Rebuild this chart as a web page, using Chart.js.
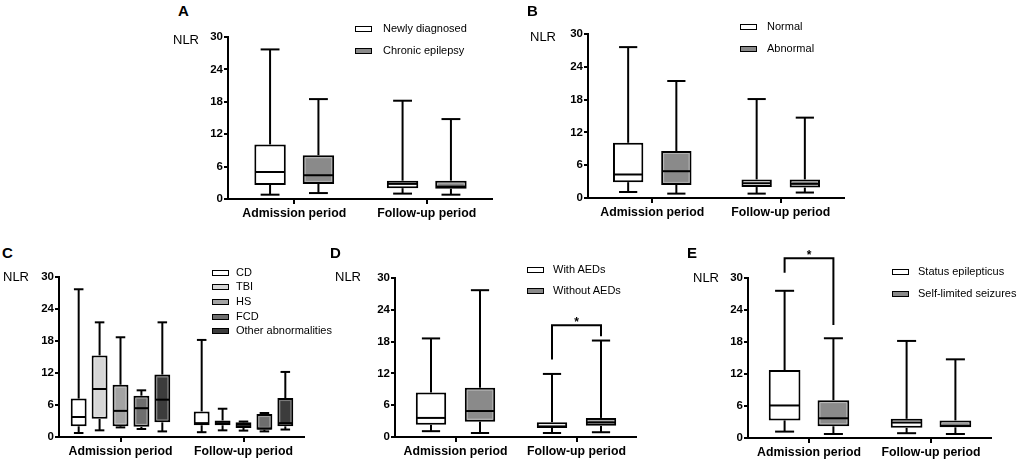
<!DOCTYPE html>
<html lang="en">
<head>
<meta charset="UTF-8">
<title>NLR box plots</title>
<script src="https://cdn.jsdelivr.net/npm/chart.js"></script>
<style>
  body { margin: 0; background: #fff; width: 1021px; height: 464px; position: relative; overflow: hidden;
         font-family: 'Liberation Sans', Arial, sans-serif; color: #000; }
  .panel { position: absolute; }
  .txt { position: absolute; line-height: 1; white-space: nowrap; }
  .letter { font-weight: bold; font-size: 15px; }
  .nlr { font-size: 13px; }
  .leg { font-size: 11px; }
  .swatch { position: absolute; border: 1.5px solid #000; box-sizing: border-box; width: 17px; height: 6px; }
</style>
</head>
<body>
<script>
const periods = ['Admission period', 'Follow-up period'];
const yTicks = [0, 6, 12, 18, 24, 30];

// each series: [min, q1, median, q3, max] for admission, then follow-up
const newlyA = [[0.8, 2.6, 5.0, 10.1, 27.7], [1.0, 2.0, 2.8, 3.4, 18.2]];
const chronicA = [[1.1, 2.8, 4.4, 8.1, 18.5], [0.8, 1.9, 2.3, 3.4, 14.8]];

const normalB = [[1.1, 2.9, 4.3, 10.1, 27.6], [0.8, 2.0, 2.7, 3.4, 18.1]];
const abnormalB = [[0.8, 2.4, 4.9, 8.6, 21.4], [1.0, 1.9, 2.6, 3.4, 14.7]];

const cdC = [[0.75, 2.0, 3.75, 7.2, 27.7], [0.9, 2.2, 2.6, 4.8, 18.2]];
const tbiC = [[1.25, 3.4, 9.0, 15.3, 21.5], [1.25, 2.2, 2.6, 3.1, 5.3]];
const hsC = [[1.8, 2.0, 4.9, 9.8, 18.7], [1.2, 1.7, 2.3, 2.75, 2.9]];
const fcdC = [[1.5, 1.9, 5.4, 7.75, 8.75], [1.05, 1.35, 1.6, 4.3, 4.5]];
const otherC = [[1.05, 2.75, 7.0, 11.7, 21.5], [1.4, 2.0, 2.6, 7.3, 12.2]];

const withD = [[1.1, 2.3, 3.6, 8.4, 18.6], [0.75, 1.7, 2.0, 2.8, 11.9]];
const withoutD = [[0.75, 2.9, 4.9, 9.3, 27.7], [0.9, 2.1, 2.75, 3.6, 18.2]];

const statusE = [[1.2, 3.3, 6.1, 12.75, 27.6], [0.9, 1.9, 2.9, 3.6, 18.2]];
const selfE = [[0.75, 2.2, 3.7, 7.1, 18.7], [0.75, 2.0, 2.3, 3.3, 14.75]];

// significance brackets: [left leg end, top, right leg end]
const bracketD = [14.6, 21.1, 19.0];
const bracketE = [31.0, 33.7, 21.2];

const FONT = "'Liberation Sans', Arial, sans-serif";
const WHITE = '#ffffff';

const boxPlugin = {
  id: 'boxWhiskers',
  afterDatasetsDraw(chart, args, opts) {
    const ctx = chart.ctx;
    const y = chart.scales.y;
    const line = (x1, y1, x2, y2) => { ctx.beginPath(); ctx.moveTo(x1, y1); ctx.lineTo(x2, y2); ctx.stroke(); };
    ctx.save();
    chart.data.datasets.forEach((ds, k) => {
      const meta = chart.getDatasetMeta(k);
      meta.data.forEach((bar, i) => {
        const [mn, q1, md, q3, mx] = ds.stats[i];
        const cx = bar.x, w = bar.width, cap = w * 0.6;
        const top = y.getPixelForValue(q3), bot = y.getPixelForValue(q1);
        if (ds.backgroundColor !== WHITE && bot - top > 6) {
          ctx.strokeStyle = 'rgba(255,255,255,0.35)';
          ctx.lineWidth = 1;
          ctx.strokeRect(cx - w / 2 + 2.5, top + 2.5, w - 5, bot - top - 5);
        }
        ctx.strokeStyle = '#000';
        ctx.lineWidth = 2;
        const yMax = y.getPixelForValue(mx), yMin = y.getPixelForValue(mn);
        line(cx, top, cx, yMax);
        line(cx - cap / 2, yMax, cx + cap / 2, yMax);
        line(cx, bot, cx, yMin);
        line(cx - cap / 2, yMin, cx + cap / 2, yMin);
        const yMd = y.getPixelForValue(md);
        line(cx - w / 2 + 1, yMd, cx + w / 2 - 1, yMd);
      });
    });
    if (opts.bracket) {
      const b = opts.bracket;
      const x1 = chart.getDatasetMeta(0).data[b.period].x;
      const x2 = chart.getDatasetMeta(1).data[b.period].x;
      const yl = y.getPixelForValue(b.values[0]);
      const yt = y.getPixelForValue(b.values[1]);
      const yr = y.getPixelForValue(b.values[2]);
      ctx.strokeStyle = '#000';
      ctx.lineWidth = 2;
      ctx.beginPath();
      ctx.moveTo(x1, yl); ctx.lineTo(x1, yt); ctx.lineTo(x2, yt); ctx.lineTo(x2, yr);
      ctx.stroke();
      ctx.fillStyle = '#000';
      ctx.font = 'bold 12px ' + FONT;
      ctx.textAlign = 'center';
      ctx.textBaseline = 'alphabetic';
      ctx.fillText('*', (x1 + x2) / 2, yt + 1);
    }
    ctx.restore();
  }
};

function addText(cls, text, left, capTop, fs) {
  const d = document.createElement('div');
  d.className = 'txt ' + cls;
  d.textContent = text;
  d.style.left = left + 'px';
  d.style.top = (capTop - 0.13 * fs) + 'px';
  document.body.appendChild(d);
}

function addSwatch(left, top, fill) {
  const s = document.createElement('div');
  s.className = 'swatch';
  s.style.left = left + 'px';
  s.style.top = top + 'px';
  s.style.background = fill;
  document.body.appendChild(s);
}

function makePanel(p) {
  const yw = 32, xh = 26;
  const left = p.axisX - yw;
  const width = p.right - left;
  const height = p.bottom + xh - p.canvasTop;
  const wrap = document.createElement('div');
  wrap.className = 'panel';
  wrap.style.cssText = `left:${left}px;top:${p.canvasTop}px;width:${width}px;height:${height}px`;
  const cv = document.createElement('canvas');
  wrap.appendChild(cv);
  document.body.appendChild(wrap);

  new Chart(cv, {
    type: 'bar',
    data: {
      labels: periods,
      datasets: p.series.map((s, k) => ({
        label: p.names[k],
        data: s.map(v => [v[1], v[3]]),
        stats: s,
        backgroundColor: p.fills[k],
        borderColor: '#000',
        borderWidth: 2,
        borderSkipped: false,
        categoryPercentage: p.catPct,
        barPercentage: p.barPct
      }))
    },
    options: {
      responsive: true,
      maintainAspectRatio: false,
      animation: false,
      layout: { padding: { top: p.top - p.canvasTop, left: 0, right: 0, bottom: 0 } },
      plugins: {
        legend: { display: false },
        tooltip: { enabled: false },
        boxWhiskers: { bracket: p.bracket || null }
      },
      scales: {
        x: {
          grid: { offset: false, drawOnChartArea: false, color: '#000', lineWidth: 2, tickLength: 5 },
          border: { color: '#000', width: 2 },
          ticks: { color: '#000', font: { family: FONT, size: 12.3, weight: 'bold' }, padding: 2, maxRotation: 0 },
          afterFit: s => { s.height = xh; }
        },
        y: {
          min: 0,
          max: 30,
          afterBuildTicks: s => { s.ticks = yTicks.map(v => ({ value: v })); },
          grid: { drawOnChartArea: false, color: '#000', lineWidth: 2, tickLength: 4 },
          border: { color: '#000', width: 2 },
          ticks: { color: '#000', font: { family: FONT, size: 11.5, weight: 'bold' }, padding: 1 },
          afterFit: s => { s.width = yw; }
        }
      }
    },
    plugins: [boxPlugin]
  });

  addText('letter', p.letter, p.letterPos[0], p.letterPos[1], 15);
  addText('nlr', 'NLR', p.nlrPos[0], p.nlrPos[1], 13);
  p.names.forEach((n, k) => {
    const ty = p.leg.y + k * p.leg.step;
    addSwatch(p.leg.bx, ty + 1.5, p.fills[k]);
    addText('leg', n, p.leg.tx, ty, 11);
  });
}

const GRAY = '#8a8a8a';

makePanel({
  letter: 'A', letterPos: [178, 5], nlrPos: [173, 35],
  axisX: 228, top: 37, bottom: 199, right: 493, canvasTop: 0,
  series: [newlyA, chronicA], names: ['Newly diagnosed', 'Chronic epilepsy'],
  fills: [WHITE, GRAY], catPct: 0.73, barPct: 0.65,
  leg: { bx: 355, tx: 383, y: 24, step: 22.5 }
});

makePanel({
  letter: 'B', letterPos: [527, 5], nlrPos: [530, 32],
  axisX: 588, top: 34, bottom: 198, right: 845, canvasTop: 0,
  series: [normalB, abnormalB], names: ['Normal', 'Abnormal'],
  fills: [WHITE, GRAY], catPct: 0.75, barPct: 0.63,
  leg: { bx: 740, tx: 767, y: 22.5, step: 21.5 }
});

makePanel({
  letter: 'C', letterPos: [2, 247], nlrPos: [3, 272],
  axisX: 59, top: 277, bottom: 437, right: 305, canvasTop: 240,
  series: [cdC, tbiC, hsC, fcdC, otherC], names: ['CD', 'TBI', 'HS', 'FCD', 'Other abnormalities'],
  fills: [WHITE, '#d6d6d6', '#a3a3a3', '#6e6e6e', '#3c3c3c'], catPct: 0.85, barPct: 0.76,
  leg: { bx: 212, tx: 236, y: 268.3, step: 14.6 }
});

makePanel({
  letter: 'D', letterPos: [330, 247], nlrPos: [335, 272],
  axisX: 395, top: 278, bottom: 437, right: 637, canvasTop: 240,
  series: [withD, withoutD], names: ['With AEDs', 'Without AEDs'],
  fills: [WHITE, GRAY], catPct: 0.81, barPct: 0.62,
  bracket: { period: 1, values: bracketD },
  leg: { bx: 527, tx: 553, y: 265, step: 21.7 }
});

makePanel({
  letter: 'E', letterPos: [687, 247], nlrPos: [693, 273],
  axisX: 748, top: 278, bottom: 438, right: 992, canvasTop: 236,
  series: [statusE, selfE], names: ['Status epilepticus', 'Self-limited seizures'],
  fills: [WHITE, GRAY], catPct: 0.80, barPct: 0.65,
  bracket: { period: 0, values: bracketE },
  leg: { bx: 892, tx: 918, y: 267.3, step: 21.7 }
});
</script>
</body>
</html>
